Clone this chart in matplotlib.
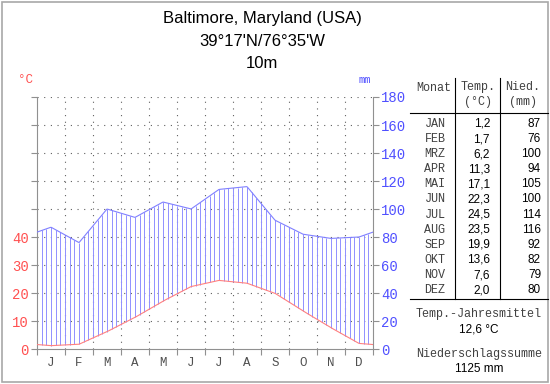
import numpy as np
import matplotlib.pyplot as plt

months = ["JAN", "FEB", "MRZ", "APR", "MAI", "JUN", "JUL", "AUG", "SEP", "OKT", "NOV", "DEZ"]
month_letters = ["J", "F", "M", "A", "M", "J", "J", "A", "S", "O", "N", "D"]
temp = [1.2, 1.7, 6.2, 11.3, 17.1, 22.3, 24.5, 23.5, 19.9, 13.6, 7.6, 2.0]
prec = [87, 76, 100, 94, 105, 100, 114, 116, 92, 82, 79, 80]
temp_labels = ["1,2", "1,7", "6,2", "11,3", "17,1", "22,3", "24,5", "23,5", "19,9", "13,6", "7,6", "2,0"]
title = ["Baltimore, Maryland (USA)", "39°17'N/76°35'W", "10m"]
mean_temp = "12,6 °C"
total_prec = "1125 mm"

mono = "Liberation Mono"
sans = "Liberation Sans"
red = "#ff5050"
blue = "#5050ff"
grey = "#909090"

fig = plt.figure(figsize=(5.5, 3.84), dpi=100)
fig.patches.append(plt.Rectangle((0.004, 0.005), 0.992, 0.99, transform=fig.transFigure,
                                 fill=False, edgecolor="#a8a8a8", linewidth=1.2))

ax = fig.add_axes([0.0673, 0.0911, 0.6109, 0.6563])
ax.set_xlim(0, 12)
ax.set_ylim(0, 90)

# month centres, wrapped around the year
xc = np.arange(12) + 0.5
xw = np.concatenate([[xc[-1] - 12], xc, [xc[0] + 12]])
tw = np.concatenate([[temp[-1]], temp, [temp[0]]])
pw = np.concatenate([[prec[-1]], prec, [prec[0]]]) / 2.0

xs = np.linspace(0, 12, 400)
ax.plot(xs, np.interp(xs, xw, tw), color="#ff8080", linewidth=0.8, zorder=4)
ax.plot(xs, np.interp(xs, xw, pw), color="#8080ff", linewidth=0.8, zorder=4)

# vertical hatching between the curves (humid period)
xh = np.arange(1, 72) / 6.0
th = np.interp(xh, xw, tw)
ph = np.interp(xh, xw, pw)
m = ph > th
ax.vlines(xh[m], th[m], ph[m], color="#9090ff", linewidth=0.7, zorder=3)

# dotted grid
for yv in range(10, 100, 10):
    ax.axhline(yv, color="#606060", linestyle=(0, (1, 5)), linewidth=0.8, zorder=1)
for xv in range(1, 12):
    ax.axvline(xv, color="#606060", linestyle=(0, (1, 5)), linewidth=0.8, zorder=1)

for s in ["top", "right"]:
    ax.spines[s].set_visible(False)
for s in ["left", "bottom"]:
    ax.spines[s].set_color(grey)

ax.set_yticks(range(0, 100, 10))
ax.set_yticklabels([str(v) if v <= 40 else "" for v in range(0, 100, 10)],
                   family=mono, fontsize=10, color=red)
ax.set_xticks(range(0, 13))
ax.set_xticklabels([])
ax.set_xticks(xc, minor=True)
ax.set_xticklabels(month_letters, minor=True, family=mono, fontsize=9, color="#505050")
ax.tick_params(axis="x", which="minor", length=0, pad=6)
ax.tick_params(axis="x", which="major", length=4, color=grey)
ax.tick_params(axis="y", length=4, color=grey, pad=2)

ax2 = ax.twinx()
ax2.set_ylim(0, 180)
ax2.set_yticks(range(0, 200, 20))
ax2.set_yticklabels([str(v) for v in range(0, 200, 20)], family=mono, fontsize=10, color=blue)
ax2.tick_params(axis="y", length=4, color=grey, pad=2)
for s in ["top", "left", "bottom"]:
    ax2.spines[s].set_visible(False)
ax2.spines["right"].set_color(grey)

fig.text(25 / 550, 1 - 80 / 384, "°C", family=mono, fontsize=9, color=red, ha="center", va="center")
fig.text(365 / 550, 1 - 80 / 384, "mm", family=mono, fontsize=7.5, color=blue, ha="center", va="center")

for i, line in enumerate(title):
    fig.text(262 / 550, 1 - (18 + 23 * i) / 384, line, family=sans, fontsize=12,
             ha="center", va="center")

# table on the right
def fx(px):
    return px / 550

def fy(py):
    return 1 - py / 384

fig.add_artist(plt.Line2D([fx(455), fx(455)], [fy(78), fy(299)], color="black", linewidth=0.8))
fig.add_artist(plt.Line2D([fx(500), fx(500)], [fy(78), fy(299)], color="black", linewidth=0.8))
fig.add_artist(plt.Line2D([fx(410), fx(548)], [fy(113), fy(113)], color="black", linewidth=0.8))
fig.add_artist(plt.Line2D([fx(410), fx(548)], [fy(299), fy(299)], color="black", linewidth=0.8))

hdr = dict(family=mono, fontsize=8.5, color="#404040", ha="center", va="center")
fig.text(fx(434), fy(88), "Monat", **hdr)
fig.text(fx(478), fy(87), "Temp.", **hdr)
fig.text(fx(478), fy(102), "(°C)", **hdr)
fig.text(fx(523), fy(87), "Nied.", **hdr)
fig.text(fx(523), fy(102), "(mm)", **hdr)

for i in range(12):
    y = fy(124 + 15.1 * i)
    fig.text(fx(435), y, months[i], **hdr)
    fig.text(fx(490), y, temp_labels[i], family=sans, fontsize=8.5, ha="right", va="center")
    fig.text(fx(541), y, str(prec[i]), family=sans, fontsize=8.5, ha="right", va="center")

fig.text(fx(479), fy(314), "Temp.-Jahresmittel", **hdr)
fig.text(fx(479), fy(329), mean_temp, family=sans, fontsize=8.5, ha="center", va="center")
fig.text(fx(479), fy(354), "Niederschlagssumme", **hdr)
fig.text(fx(479), fy(369), total_prec, family=sans, fontsize=8.5, ha="center", va="center")

fig.savefig("out.png", dpi=100)
